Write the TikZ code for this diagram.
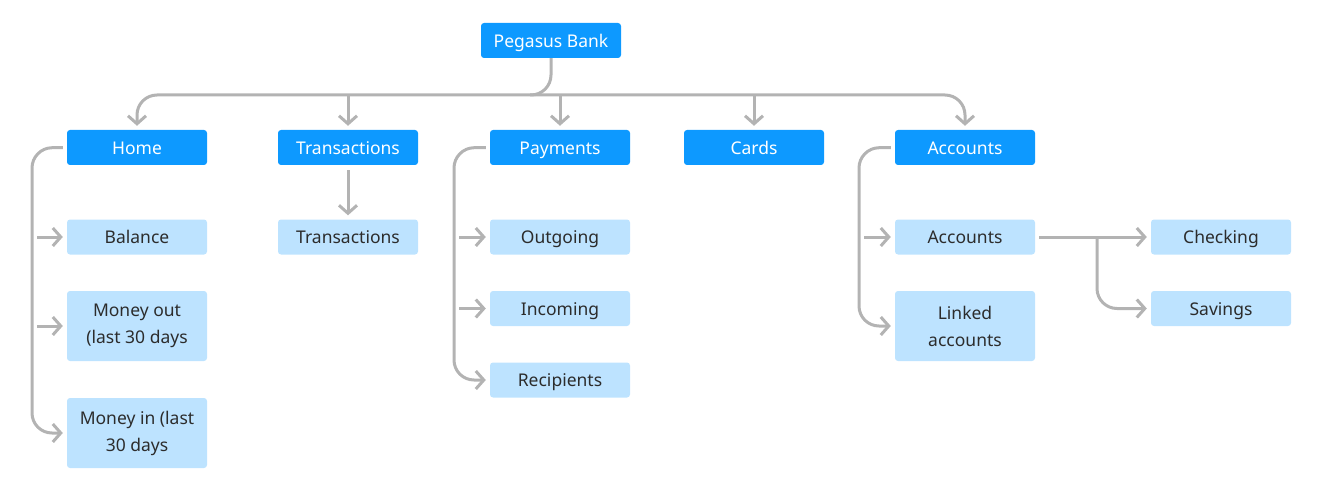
\documentclass[tikz,border=0pt]{standalone}
\usepackage{fontspec}
\setmainfont{Noto Sans}
\usetikzlibrary{arrows.meta}
\definecolor{bdark}{HTML}{0D99FF}
\definecolor{blight}{HTML}{BDE3FF}
\definecolor{tdark}{HTML}{2C2C2C}
\definecolor{cgray}{HTML}{B3B3B3}
\tikzset{
  box/.style={rounded corners=3pt, minimum width=140pt, minimum height=35pt, inner sep=0pt, align=center, font=\fontsize{17.5}{27}\selectfont},
  oneline/.style={text height=16pt, text depth=2.4pt},
  topbox/.style={box, oneline, fill=bdark, text=white},
  subbox/.style={box, oneline, fill=blight, text=tdark},
  tallbox/.style={box, fill=blight, text=tdark, minimum height=70pt},
  conn/.style={draw=cgray, line width=3pt, -{Straight Barb[length=8pt,width=18pt]}, rounded corners=20pt}
}
\begin{document}
\begin{tikzpicture}[x=1pt,y=-1pt]
\useasboundingbox (0,0) rectangle (1318,484);
% nodes
\node[topbox] (root) at (551,40.5) {Pegasus Bank};
\node[topbox] (home) at (137,147.5) {Home};
\node[topbox] (trans) at (348,147.5) {Transactions};
\node[topbox] (pay) at (560,147.5) {Payments};
\node[topbox] (cards) at (754,147.5) {Cards};
\node[topbox] (acc) at (965,147.5) {Accounts};
\node[subbox] (bal) at (137,237) {Balance};
\node[tallbox] (mout) at (137,326) {Money out\\(last 30 days};
\node[tallbox] (min) at (137,433) {Money in (last\\30 days};
\node[subbox] (trans2) at (348,237) {Transactions};
\node[subbox] (out) at (560,237) {Outgoing};
\node[subbox] (inc) at (560,308.5) {Incoming};
\node[subbox] (rec) at (560,380) {Recipients};
\node[subbox] (acc2) at (965,237) {Accounts};
\node[tallbox] (linked) at (965,326) {Linked\\accounts};
\node[subbox] (chk) at (1221,237) {Checking};
\node[subbox] (sav) at (1221,308.5) {Savings};
% coordinates
\coordinate (busL) at (137,95);
\coordinate (busR) at (965,95);
\coordinate (busS) at (530,95);
\coordinate (bT) at (348,95);
\coordinate (bP) at (560,95);
\coordinate (bC) at (754,95);
\coordinate (hL) at (32,148);
\coordinate (hB) at (32,433);
\coordinate (hs1) at (37,237);
\coordinate (hs2) at (37,326);
\coordinate (pL) at (454,148);
\coordinate (pB) at (454,380);
\coordinate (ps1) at (459,237);
\coordinate (ps2) at (459,308.5);
\coordinate (aL) at (859,148);
\coordinate (aB) at (859,326);
\coordinate (as1) at (864,237);
\coordinate (br) at (1097,237);
\coordinate (brB) at (1097,308.5);
% connectors
\draw[conn, shorten >=4pt] (root.south) |- (busL) -- (home.north);
\draw[conn, shorten >=4pt] (busS) -- (busR) -- (acc.north);
\draw[conn, shorten >=4pt] (bT) -- (trans.north);
\draw[conn, shorten >=4pt] (bP) -- (pay.north);
\draw[conn, shorten >=4pt] (bC) -- (cards.north);
\draw[conn, shorten <=5pt, shorten >=4pt] (trans.south) -- (trans2.north);
\draw[conn, shorten <=4pt, shorten >=4pt] (home.west) -- (hL) -- (hB) -- (min.west);
\draw[conn, shorten >=4pt] (hs1) -- (bal.west);
\draw[conn, shorten >=4pt] (hs2) -- (mout.west);
\draw[conn, shorten <=4pt, shorten >=4pt] (pay.west) -- (pL) -- (pB) -- (rec.west);
\draw[conn, shorten >=4pt] (ps1) -- (out.west);
\draw[conn, shorten >=4pt] (ps2) -- (inc.west);
\draw[conn, shorten <=4pt, shorten >=4pt] (acc.west) -- (aL) -- (aB) -- (linked.west);
\draw[conn, shorten >=4pt] (as1) -- (acc2.west);
\draw[conn, shorten <=4pt, shorten >=4pt] (acc2.east) -- (chk.west);
\draw[conn, shorten >=4pt] (br) -- (brB) -- (sav.west);
\end{tikzpicture}
\end{document}
